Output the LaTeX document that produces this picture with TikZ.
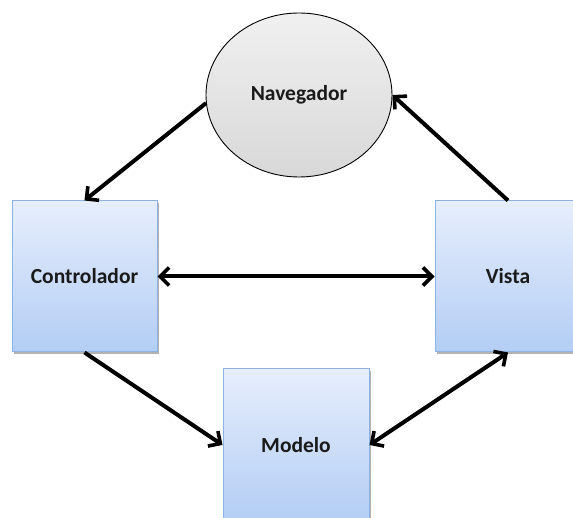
\documentclass[tikz,border=0pt]{standalone}
\usepackage{fontspec}
\setmainfont{Carlito}
\usepackage{xcolor}
\usetikzlibrary{arrows.meta,shapes.geometric,shadows}

\definecolor{boxtop}{HTML}{E6EEFC}
\definecolor{boxbottom}{HTML}{B3CDF4}
\definecolor{boxline}{HTML}{8DB2E2}
\definecolor{navtop}{HTML}{F0F0F0}
\definecolor{navbottom}{HTML}{D8D8D8}
\definecolor{labeltext}{HTML}{1A1A1A}

\begin{document}
\begin{tikzpicture}[x=1pt,y=-1pt,
	box/.style={rectangle, draw=boxline, line width=1pt, top color=boxtop, bottom color=boxbottom,
		drop shadow={shadow xshift=1.5pt, shadow yshift=-2pt, opacity=0.3, fill=black},
		inner sep=0pt, font=\fontsize{21.5}{25}\selectfont\bfseries, text=labeltext},
	navnode/.style={ellipse, draw=black, line width=0.9pt, top color=navtop, bottom color=navbottom,
		minimum width=186pt, minimum height=164pt, inner sep=0pt,
		font=\fontsize{21.5}{25}\selectfont\bfseries, text=labeltext},
	link/.style={line width=4pt, black, -{Straight Barb[length=9pt,width=18pt,line width=3.6pt]}},
	dlink/.style={link, {Straight Barb[length=9pt,width=18pt,line width=3.6pt]}-{Straight Barb[length=9pt,width=18pt,line width=3.6pt]}}]
	\useasboundingbox (0,0) rectangle (573,518);

	\node[navnode] (nav) at (299,95) {Navegador};
	\node[box, minimum width=145pt, minimum height=151pt] (ctrl) at (84.5,276.5) {Controlador};
	\node[box, minimum width=146pt, minimum height=151pt] (vista) at (508,276.5) {Vista};
	\node[box, minimum width=146pt, minimum height=152pt] (modelo) at (296,445) {Modelo};

	\draw[link] (nav.185) -- (ctrl.north);
	\draw[link] (vista.north) -- (nav.east);
	\draw[dlink] (ctrl.east) -- (vista.west);
	\draw[link] (ctrl.south) -- (modelo.west);
	\draw[dlink] (vista.south) -- (modelo.east);
\end{tikzpicture}
\end{document}
